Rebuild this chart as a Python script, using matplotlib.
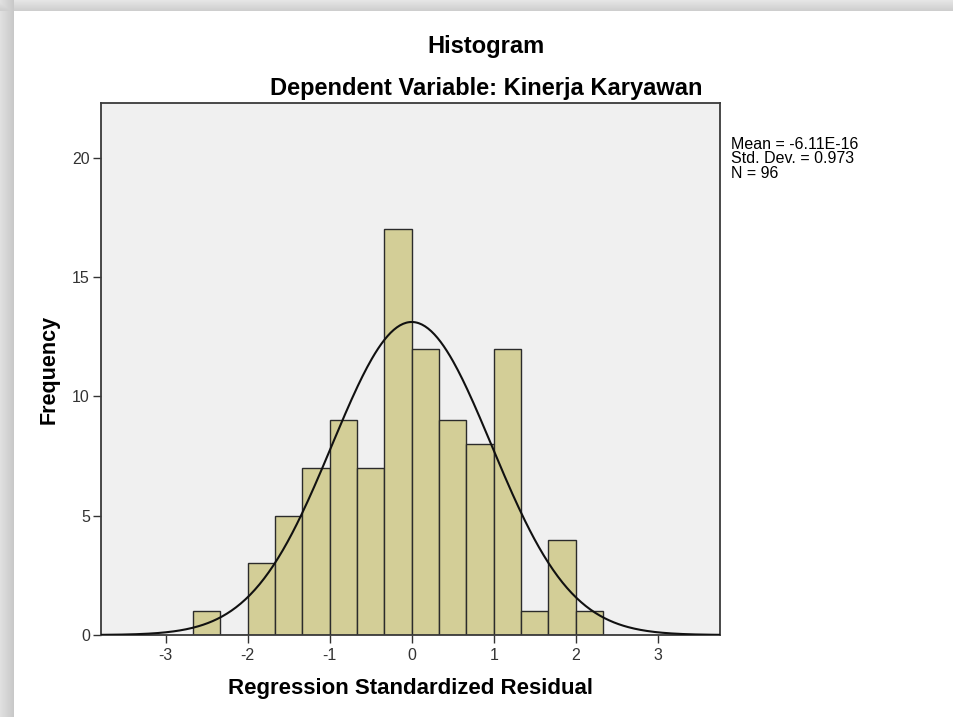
#!/usr/bin/env python3
"""
SPSS-style histogram of regression standardized residuals
with a fitted normal curve.
"""

import numpy as np
import matplotlib.pyplot as plt

plt.rcParams['font.family'] = ['Liberation Sans', 'DejaVu Sans']

# Histogram data (bins of width 1/3, starting at -8/3)
bin_start = -8 / 3
bin_width = 1 / 3
counts = [1, 0, 3, 5, 7, 9, 7, 17, 12, 9, 8, 12, 1, 4, 1]

# Summary statistics shown in the legend box
mean_label = '-6.11E-16'
mean_val = -6.11e-16
std_val = 0.973
n_obs = 96

x_ticks = [-3, -2, -1, 0, 1, 2, 3]
y_ticks = [0, 5, 10, 15, 20]

W, H = 954, 717
fig = plt.figure(figsize=(W / 100, H / 100), dpi=100)
fig.patch.set_facecolor('white')

# Screenshot frame: grey shadow bands on top and left
bg = fig.add_axes([0, 0, 1, 1], zorder=-5)
img = np.ones((H, W, 3))
top = 11
left = 14
for r in range(top):
    img[r, :, :] = 0.90 - 0.10 * (r / top)
for c in range(left):
    img[:, c, :] = np.minimum(img[:, c, :], 0.88 - 0.10 * (c / left))
bg.imshow(img, extent=[0, W, H, 0], aspect='auto', interpolation='bilinear')
bg.set_xlim(0, W)
bg.set_ylim(H, 0)
bg.axis('off')

ax = fig.add_axes([101 / W, 1 - 635 / H, 619 / W, 532 / H])
ax.set_facecolor('#F0F0F0')

edges = bin_start + bin_width * np.arange(len(counts))
ax.bar(edges, counts, width=bin_width, align='edge', color='#D3CE97',
       edgecolor='#2b2b2b', linewidth=1.0, zorder=2)

# normal curve scaled to the histogram
xs = np.linspace(-3.8, 3.8, 400)
density = np.exp(-0.5 * ((xs - mean_val) / std_val) ** 2) / (std_val * np.sqrt(2 * np.pi))
ax.plot(xs, density * n_obs * bin_width, color='#111111', linewidth=1.5, zorder=3)

ax.set_xlim(-3.79, 3.76)
ax.set_ylim(0, 22.3)
ax.set_xticks(x_ticks)
ax.set_xticklabels([str(t) for t in x_ticks])
ax.set_yticks(y_ticks)
ax.tick_params(axis='both', direction='out', length=6, width=1.0,
               color='#333333', labelcolor='#333333', labelsize=11.5, pad=2)
ax.tick_params(axis='x', pad=3)
for s in ax.spines.values():
    s.set_color('#3a3a3a')
    s.set_linewidth(1.3)

ax.set_xlabel('Regression Standardized Residual', fontsize=16, fontweight='bold', labelpad=11)
ax.set_ylabel('Frequency', fontsize=15.5, fontweight='bold', labelpad=9)

fig.text(486 / W, 1 - 47 / H, 'Histogram', ha='center', va='center',
         fontsize=17, fontweight='bold')
fig.text(486 / W, 1 - 89 / H, 'Dependent Variable: Kinerja Karyawan', ha='center',
         va='center', fontsize=17, fontweight='bold')

stats_text = f'Mean = {mean_label}\nStd. Dev. = {std_val:.3f}\nN = {n_obs}'
fig.text(731 / W, 1 - 137 / H, stats_text, ha='left', va='top', fontsize=11.5,
         linespacing=0.95)

fig.savefig('out.png', dpi=100)
